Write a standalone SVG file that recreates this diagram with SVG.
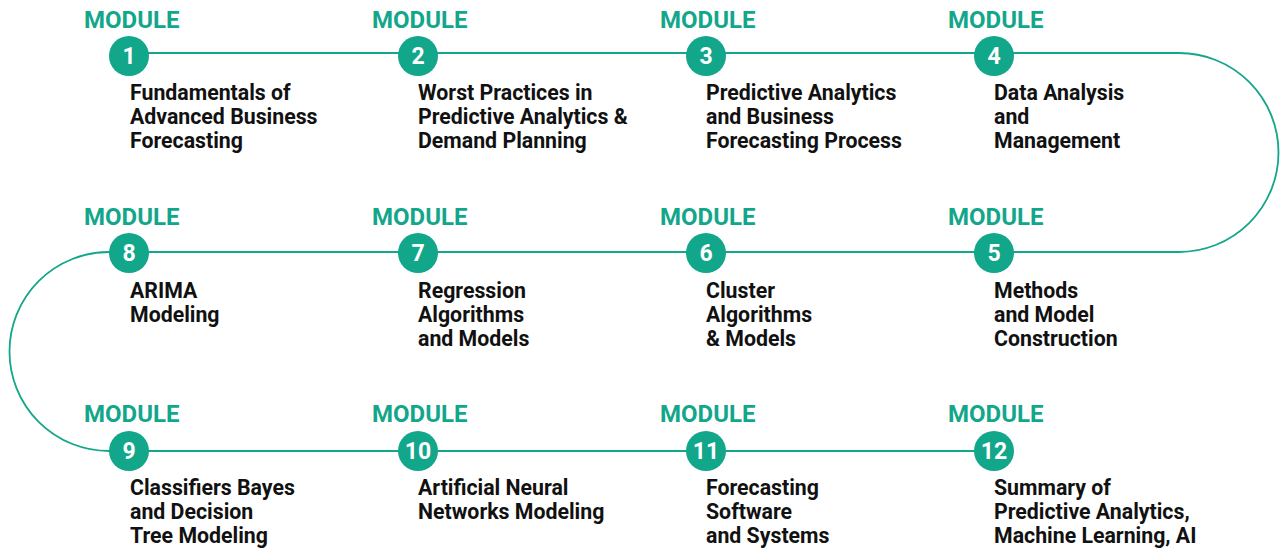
<svg xmlns="http://www.w3.org/2000/svg" width="1281" height="548" viewBox="0 0 1281 548">
<style>
.mod{font-family:Roboto,"Liberation Sans",sans-serif;font-weight:700;font-size:24px;fill:#12a68b}
.num{font-family:Roboto,"Liberation Sans",sans-serif;font-weight:700;font-size:23px;fill:#fff;text-anchor:middle}
.desc{font-family:Roboto,"Liberation Sans",sans-serif;font-weight:700;font-size:21.3px;fill:#111}
.dot{fill:#12a68b}
.conn{fill:none;stroke:#12a68b;stroke-width:1.8}
</style>
<rect width="1281" height="548" fill="#fff"/>
<g id="connectors">
<path class="conn" d="M129,53 H1179 A99.5,99.5 0 0 1 1179,252 H109 A99.5,99.5 0 0 0 109,451 H994"/>
</g>
<g id="m1"><text class="mod" x="84" y="28">MODULE</text><circle class="dot" cx="129" cy="56" r="20"/><text class="num" x="129" y="64">1</text>
<text class="desc" x="130" y="100">Fundamentals of</text><text class="desc" x="130" y="124">Advanced Business</text><text class="desc" x="130" y="148">Forecasting</text></g>
<g id="m2"><text class="mod" x="372" y="28">MODULE</text><circle class="dot" cx="418" cy="56" r="20"/><text class="num" x="418" y="64">2</text>
<text class="desc" x="418" y="100">Worst Practices in</text><text class="desc" x="418" y="124">Predictive Analytics &amp;</text><text class="desc" x="418" y="148">Demand Planning</text></g>
<g id="m3"><text class="mod" x="660" y="28">MODULE</text><circle class="dot" cx="706" cy="56" r="20"/><text class="num" x="706" y="64">3</text>
<text class="desc" x="706" y="100">Predictive Analytics</text><text class="desc" x="706" y="124">and Business</text><text class="desc" x="706" y="148">Forecasting Process</text></g>
<g id="m4"><text class="mod" x="948" y="28">MODULE</text><circle class="dot" cx="994" cy="56" r="20"/><text class="num" x="994" y="64">4</text>
<text class="desc" x="994" y="100">Data Analysis</text><text class="desc" x="994" y="124">and</text><text class="desc" x="994" y="148">Management</text></g>
<g id="m5"><text class="mod" x="948" y="225">MODULE</text><circle class="dot" cx="994" cy="253" r="20"/><text class="num" x="994" y="261">5</text>
<text class="desc" x="994" y="298">Methods</text><text class="desc" x="994" y="322">and Model</text><text class="desc" x="994" y="346">Construction</text></g>
<g id="m6"><text class="mod" x="660" y="225">MODULE</text><circle class="dot" cx="706" cy="253" r="20"/><text class="num" x="706" y="261">6</text>
<text class="desc" x="706" y="298">Cluster</text><text class="desc" x="706" y="322">Algorithms</text><text class="desc" x="706" y="346">&amp; Models</text></g>
<g id="m7"><text class="mod" x="372" y="225">MODULE</text><circle class="dot" cx="418" cy="253" r="20"/><text class="num" x="418" y="261">7</text>
<text class="desc" x="418" y="298">Regression</text><text class="desc" x="418" y="322">Algorithms</text><text class="desc" x="418" y="346">and Models</text></g>
<g id="m8"><text class="mod" x="84" y="225">MODULE</text><circle class="dot" cx="129" cy="253" r="20"/><text class="num" x="129" y="261">8</text>
<text class="desc" x="130" y="298">ARIMA</text><text class="desc" x="130" y="322">Modeling</text></g>
<g id="m9"><text class="mod" x="84" y="422">MODULE</text><circle class="dot" cx="129" cy="451" r="20"/><text class="num" x="129" y="459">9</text>
<text class="desc" x="130" y="495">Classifiers Bayes</text><text class="desc" x="130" y="519">and Decision</text><text class="desc" x="130" y="543">Tree Modeling</text></g>
<g id="m10"><text class="mod" x="372" y="422">MODULE</text><circle class="dot" cx="418" cy="451" r="20"/><text class="num" x="418" y="459">10</text>
<text class="desc" x="418" y="495">Artificial Neural</text><text class="desc" x="418" y="519">Networks Modeling</text></g>
<g id="m11"><text class="mod" x="660" y="422">MODULE</text><circle class="dot" cx="706" cy="451" r="20"/><text class="num" x="706" y="459">11</text>
<text class="desc" x="706" y="495">Forecasting</text><text class="desc" x="706" y="519">Software</text><text class="desc" x="706" y="543">and Systems</text></g>
<g id="m12"><text class="mod" x="948" y="422">MODULE</text><circle class="dot" cx="994" cy="451" r="20"/><text class="num" x="994" y="459">12</text>
<text class="desc" x="994" y="495">Summary of</text><text class="desc" x="994" y="519">Predictive Analytics,</text><text class="desc" x="994" y="543">Machine Learning, AI</text></g>
</svg>
